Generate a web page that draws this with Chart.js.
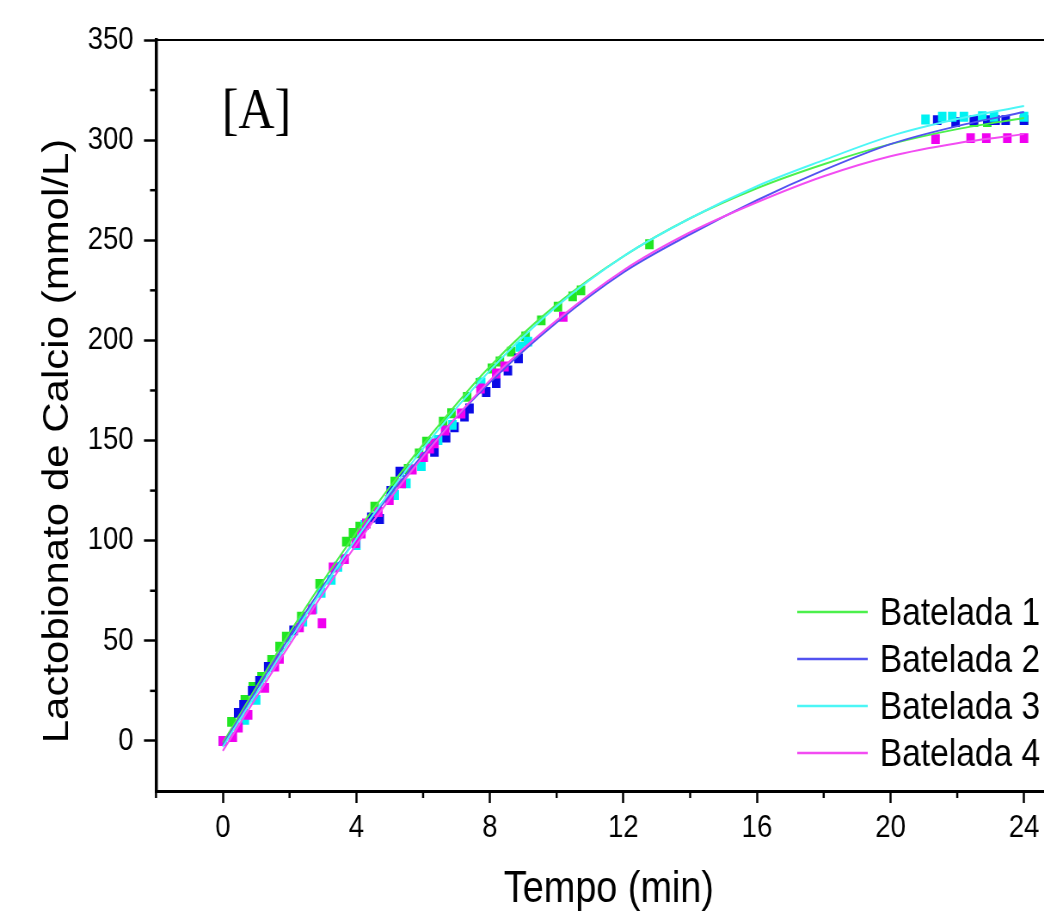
<!DOCTYPE html>
<html>
<head>
<meta charset="utf-8">
<script src="https://cdn.jsdelivr.net/npm/chart.js@4.4.1/dist/chart.umd.min.js"></script>
<style>
  html, body { margin: 0; padding: 0; background: #fff; overflow: hidden; }
  /* the original figure is squeezed horizontally, so draw wide and compress */
  #wrap { width: 1214px; height: 913px; transform: scaleX(0.86); transform-origin: 0 0; }
</style>
</head>
<body>
<div id="wrap"><canvas id="chart" width="1214" height="913"></canvas></div>
<script>
// measured points (Tempo in min, Lactobionato in mmol/L)
const b1Time = [0, 0.26, 0.66, 0.9, 1.16, 1.46, 1.7, 1.9, 2.35, 2.9, 3.7, 3.9, 4.1, 4.55, 5.15, 5.55, 5.88, 6.1, 6.6, 6.85, 7.32, 7.7, 8.06, 8.3, 8.64, 9.07, 9.54, 10.04, 10.48, 10.73, 12.78, 22.5, 22.9, 24];
const b1Value = [0, 9.5, 20.5, 27, 32, 40.4, 47, 52, 62, 78.4, 99.5, 103.8, 107, 117, 129.4, 135.8, 143.6, 149.4, 159.4, 163.6, 171.8, 178.8, 186, 189.5, 194.4, 202, 210, 216.8, 222, 225, 248, 309, 309, 310];

const b2Time = [0, 0.46, 0.62, 0.88, 1.1, 1.36, 2.12, 4.45, 4.7, 5.03, 5.3, 6.34, 6.69, 6.94, 7.24, 7.39, 7.89, 8.19, 8.54, 8.86, 21.4, 21.95, 22.5, 22.9, 23.15, 23.45, 24];
const b2Value = [0, 14, 18, 25, 30, 37, 55.2, 111.6, 110.8, 124.8, 134.4, 144.4, 151.5, 156.6, 162, 166, 174.2, 178.7, 185, 191, 310, 309, 310, 310, 310, 310, 310];

const b3Time = [0, 0.66, 1.0, 2.4, 2.7, 2.95, 3.25, 3.45, 4.0, 4.25, 5.15, 5.5, 5.95, 6.45, 6.88, 7.74, 8.9, 9.14, 21.05, 21.55, 21.85, 22.2, 22.75, 23.1, 24];
const b3Value = [0, 10.5, 20.5, 59.6, 66, 74, 80.4, 87, 97.8, 107.8, 122.8, 128.6, 137.3, 150.3, 157.8, 179, 196.8, 199.4, 310.3, 311.7, 311.7, 311.7, 312, 311.7, 311.7];

const b4Time = [0, 0.3, 0.47, 0.76, 1.26, 1.56, 1.7, 2.3, 2.67, 2.97, 3.3, 3.65, 3.98, 4.15, 4.3, 4.66, 4.99, 5.36, 5.68, 6.02, 6.2, 6.34, 6.66, 7.14, 7.72, 8.19, 8.44, 10.2, 21.35, 22.4, 22.87, 23.5, 24];
const b4Value = [0, 2, 6.7, 13, 26.5, 37.2, 41, 56.7, 65.6, 58.8, 86.6, 90.8, 98.8, 103.6, 108.6, 114.3, 120.3, 128.6, 135.5, 141.8, 146, 148.6, 155, 163.5, 176, 183.5, 187, 211.8, 300.5, 301, 301, 301, 301];

// fitted curves
const fitTime = [0, 2, 4, 6, 8, 10, 12, 14, 16, 18, 20, 22, 24];
const fitB1 = [-1, 54, 104, 148, 187, 218, 242, 261, 276, 288, 298, 305.5, 311];
const fitB2 = [-2, 52, 101, 143, 179, 209, 234, 253, 270, 285, 298, 307, 314];
const fitB3 = [-3, 50, 101, 146, 185, 217, 242, 261, 277, 290, 302, 310.5, 317];
const fitB4 = [-5, 48, 98, 142, 180, 210, 235, 254, 269, 282, 292, 298.5, 303];

const seriesNames = ["Batelada 1", "Batelada 2", "Batelada 3", "Batelada 4"];
const xTicks = [0, 4, 8, 12, 16, 20, 24];
const xMinorTicks = [-2, 2, 6, 10, 14, 18, 22];
const yTicks = [0, 50, 100, 150, 200, 250, 300, 350];
const yMinorTicks = [25, 75, 125, 175, 225, 275, 325];
const xTitle = "Tempo (min)";
const yTitle = "Lactobionato de Calcio (mmol/L)";
const panelTag = "[A]";

const pointColors = ["#22e622", "#0a0ae6", "#00f2f2", "#f000f0"];
const lineColors = ["#4cf04c", "#5252f0", "#4cf6f6", "#f24cf2"];

function zipXY(xs, ys) {
  return xs.map((v, i) => ({ x: v, y: ys[i] }));
}

const pointSets = [[b1Time, b1Value], [b2Time, b2Value], [b3Time, b3Value], [b4Time, b4Value]];
const fitSets = [fitB1, fitB2, fitB3, fitB4];

const datasets = [];
pointSets.forEach((p, i) => {
  datasets.push({
    type: "scatter",
    label: seriesNames[i] + " pontos",
    data: zipXY(p[0], p[1]),
    pointStyle: "rect",
    pointRadius: 7,
    pointHoverRadius: 7,
    borderWidth: 0,
    backgroundColor: pointColors[i],
    order: 20 - i
  });
});
fitSets.forEach((f, i) => {
  datasets.push({
    type: "line",
    label: seriesNames[i],
    data: zipXY(fitTime, f),
    borderColor: lineColors[i],
    borderWidth: 2,
    pointRadius: 0,
    fill: false,
    cubicInterpolationMode: "monotone",
    order: 10 - i
  });
});

const sansFont = '"Liberation Sans", Arial, sans-serif';

// minor ticks, top frame, panel tag, legend and axis titles
const extras = {
  id: "extras",
  afterDraw(chart) {
    const { ctx, chartArea: a, scales: { x, y } } = chart;
    ctx.save();
    ctx.strokeStyle = "#000";
    ctx.lineWidth = 2;
    ctx.beginPath();
    ctx.moveTo(a.left, a.top);
    ctx.lineTo(a.right, a.top);
    ctx.stroke();

    ctx.lineWidth = 2.5;
    xMinorTicks.forEach(v => {
      const px = x.getPixelForValue(v);
      ctx.beginPath();
      ctx.moveTo(px, a.bottom);
      ctx.lineTo(px, a.bottom + 7);
      ctx.stroke();
    });
    yMinorTicks.forEach(v => {
      const py = y.getPixelForValue(v);
      ctx.beginPath();
      ctx.moveTo(a.left, py);
      ctx.lineTo(a.left - 7, py);
      ctx.stroke();
    });

    ctx.fillStyle = "#000";
    ctx.font = '58px "Liberation Serif", "Times New Roman", serif';
    ctx.textBaseline = "alphabetic";
    ctx.textAlign = "left";
    ctx.fillText(panelTag, 258, 128);

    // legend
    ctx.font = "39px " + sansFont;
    seriesNames.forEach((name, i) => {
      const ly = 612 + i * 47;
      ctx.strokeStyle = lineColors[i];
      ctx.lineWidth = 2.5;
      ctx.beginPath();
      ctx.moveTo(927, ly);
      ctx.lineTo(1009, ly);
      ctx.stroke();
      ctx.fillStyle = "#000";
      ctx.fillText(name, 1023, ly + 13);
    });

    // x title
    ctx.textAlign = "center";
    ctx.font = "44px " + sansFont;
    ctx.fillText(xTitle, 708, 902);

    // y title
    ctx.translate(67, 441);
    ctx.rotate(-Math.PI / 2);
    ctx.textBaseline = "middle";
    ctx.font = "42px " + sansFont;
    ctx.fillText(yTitle, 0, 0);
    ctx.restore();
  }
};

const ctx = document.getElementById("chart").getContext("2d");
const chart = new Chart(ctx, {
  type: "scatter",
  data: { datasets: datasets },
  options: {
    responsive: false,
    animation: false,
    devicePixelRatio: 1,
    layout: { autoPadding: false, padding: { top: 40, right: 0, bottom: 0, left: 0 } },
    plugins: {
      legend: { display: false },
      tooltip: { enabled: false }
    },
    scales: {
      x: {
        type: "linear",
        min: -2,
        max: 24.6,
        afterBuildTicks: s => { s.ticks = xTicks.map(v => ({ value: v })); },
        afterFit: s => { s.height = 122; s.paddingLeft = 0; s.paddingRight = 0; },
        border: { display: true, color: "#000", width: 3 },
        grid: { drawOnChartArea: false, drawTicks: true, tickLength: 12, tickWidth: 2.5, tickColor: "#000" },
        ticks: {
          color: "#000",
          padding: 6,
          maxRotation: 0,
          font: { family: sansFont, size: 32 }
        }
      },
      y: {
        type: "linear",
        min: -25,
        max: 350,
        afterBuildTicks: s => { s.ticks = yTicks.map(v => ({ value: v })); },
        afterFit: s => { s.width = 181.4; s.paddingTop = 0; s.paddingBottom = 0; },
        border: { display: true, color: "#000", width: 3.5 },
        grid: { drawOnChartArea: false, drawTicks: true, tickLength: 14, tickWidth: 2.5, tickColor: "#000" },
        ticks: {
          color: "#000",
          padding: 12,
          font: { family: sansFont, size: 32 }
        }
      }
    }
  },
  plugins: [extras]
});
</script>
</body>
</html>
